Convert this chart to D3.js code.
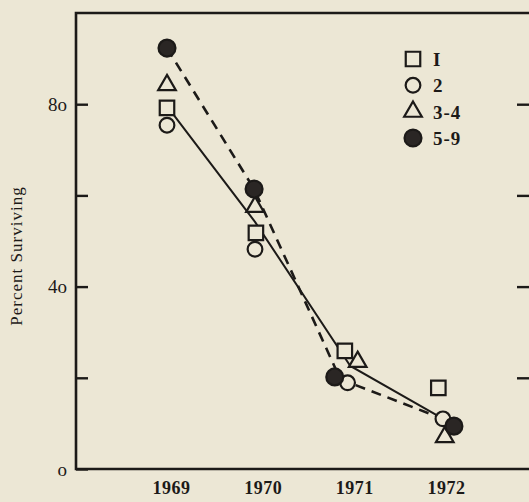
<!DOCTYPE html>
<html>
<head>
<meta charset="utf-8">
<script src="https://cdn.jsdelivr.net/npm/d3@7"></script>
<style>
  html, body { margin: 0; padding: 0; background: #ece7d5; }
  svg { display: block; }
  text { font-family: "Liberation Serif", "DejaVu Serif", serif; fill: #1c1a18; }
</style>
</head>
<body>
<script>
// ---- data ----
const years = [1969, 1970, 1971, 1972];
const groups = ["1", "2", "3-4", "5-9"];
const groupLabels = ["I", "2", "3-4", "5-9"];
// plotted x position of each point (years, points are slightly offset in the original)
const xSquare   = [1969, 1969.97, 1970.94, 1971.96];
const xCircle   = [1969, 1969.96, 1970.97, 1972.01];
const xTriangle = [1969, 1969.96, 1971.08, 1972.03];
const xFilled   = [1969, 1969.95, 1970.83, 1972.13];
// percent surviving
const group1   = [79.2, 51.8, 25.9, 17.8];
const group2   = [75.4, 48.2, 18.9, 11.0];
const group34  = [84.2, 57.5, 23.5, 7.0];
const group59  = [92.3, 61.4, 20.2, 9.4];
// fitted lines
const solidX  = [1969, 1969.96, 1971.0, 1971.98];
const solidY  = [79.6, 54.2, 22.6, 11.4];
const dashedX = [1969, 1969.95, 1970.89, 1972.01];
const dashedY = [92.3, 61.4, 19.7, 11.0];
const yTicks = [0, 20, 40, 60, 80];
const yLabels = ["o", "", "4o", "", "8o"];
const yTitle = "Percent Surviving";

// ---- drawing ----
(function () {
const W = 529, H = 502;
const ink = "#1c1a18";
const svg = d3.select("body").append("svg").attr("width", W).attr("height", H);

const mLeft = 76, mRight = 531, mTop = 13, mBottom = 469;
const x = d3.scaleLinear().domain([1969, 1972]).range([167, 442]);
const y = d3.scaleLinear().domain([0, 100]).range([mBottom, mTop]);

// frame
svg.append("path")
  .attr("d", `M${W},${mTop}H${mLeft}V${mBottom}H${W}`)
  .attr("fill", "none").attr("stroke", ink).attr("stroke-width", 2.6);

// left axis (inward ticks)
const gL = svg.append("g").attr("transform", `translate(${mLeft},0)`)
  .call(d3.axisLeft(y).tickValues(yTicks).tickSize(-12).tickPadding(9)
        .tickFormat((d, i) => yLabels[i]));
gL.select(".domain").remove();
gL.selectAll(".tick line").attr("stroke", ink).attr("stroke-width", 2.4);
gL.selectAll(".tick text").attr("font-size", 19).style("font-family", "'Liberation Serif', serif").attr("fill", ink);

// right axis (off-canvas, inward ticks)
const gR = svg.append("g").attr("transform", `translate(${mRight},0)`)
  .call(d3.axisLeft(y).tickValues([20, 40, 60, 80]).tickSize(14).tickFormat(""));
gR.select(".domain").remove();
gR.selectAll(".tick line").attr("stroke", ink).attr("stroke-width", 2.4);

// bottom axis labels
const gB = svg.append("g").attr("transform", `translate(0,${mBottom})`)
  .call(d3.axisBottom(x).tickValues(years).tickSize(0).tickPadding(12).tickFormat(d3.format("d")));
gB.select(".domain").remove();
gB.selectAll(".tick text").attr("font-size", 18).attr("dx", 4).attr("letter-spacing", 0.5)
  .style("font-family", "'Liberation Serif', serif").attr("font-weight", "bold").attr("fill", ink);

// y title
svg.append("text")
  .attr("transform", "translate(22,256) rotate(-90)")
  .attr("text-anchor", "middle")
  .attr("font-size", 17)
  .attr("letter-spacing", 1)
  .text(yTitle);

// lines
const line = d3.line().x(d => x(d[0])).y(d => y(d[1]));
svg.append("path")
  .attr("d", line(d3.zip(solidX, solidY)))
  .attr("fill", "none").attr("stroke", ink).attr("stroke-width", 2);
svg.append("path")
  .attr("d", line(d3.zip(dashedX, dashedY)))
  .attr("fill", "none").attr("stroke", ink).attr("stroke-width", 2.6)
  .attr("stroke-dasharray", "10,7");

// markers
const bg = "#ece7d5";
const sym = {
  square: d3.symbol().type(d3.symbolSquare).size(210),
  circle: d3.symbol().type(d3.symbolCircle).size(170),
  triangle: d3.symbol().type(d3.symbolTriangle).size(135),
  filled: d3.symbol().type(d3.symbolCircle).size(225)
};
const series = [
  { key: "square",   xs: xSquare,   ys: group1,  fill: bg },
  { key: "circle",   xs: xCircle,   ys: group2,  fill: bg },
  { key: "triangle", xs: xTriangle, ys: group34, fill: bg },
  { key: "filled",   xs: xFilled,   ys: group59, fill: "#2a2624" }
];
series.forEach(s => {
  svg.append("g").selectAll("path")
    .data(d3.zip(s.xs, s.ys))
    .join("path")
    .attr("d", sym[s.key])
    .attr("transform", d => `translate(${x(d[0])},${y(d[1])})`)
    .attr("fill", s.fill)
    .attr("stroke", ink)
    .attr("stroke-width", 2.2);
});

// legend
const legY = d3.scalePoint().domain(groups).range([59, 138]);
const lg = svg.append("g");
groups.forEach((g, i) => {
  const s = series[i];
  lg.append("path")
    .attr("d", sym[s.key])
    .attr("transform", `translate(413,${legY(g)})`)
    .attr("fill", s.fill).attr("stroke", ink).attr("stroke-width", 2.2);
  lg.append("text")
    .attr("x", 433).attr("y", legY(g)).attr("dy", "0.36em")
    .attr("font-size", 19).attr("font-weight", "bold").attr("letter-spacing", 1)
    .text(groupLabels[i]);
});
})();
</script>
</body>
</html>
